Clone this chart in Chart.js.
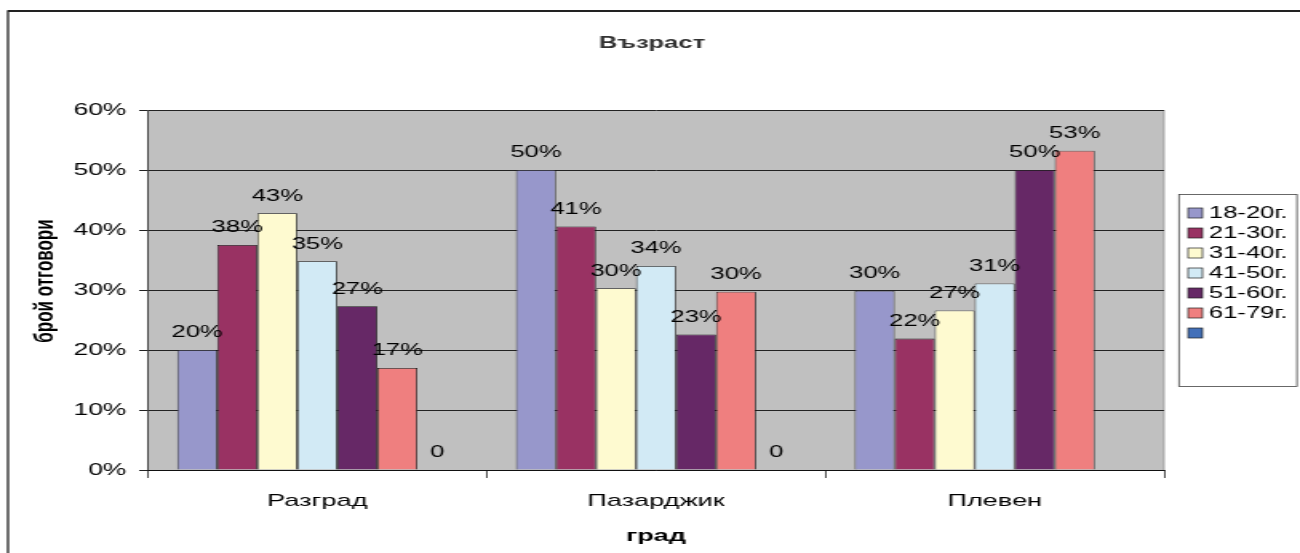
<!DOCTYPE html>
<html>
<head>
<meta charset="utf-8">
<script src="https://cdn.jsdelivr.net/npm/chart.js@4/dist/chart.umd.min.js"></script>
<style>
html,body{margin:0;padding:0;background:#fff;overflow:hidden;}
#wrap{width:813px;height:553px;position:relative;transform:scaleX(1.599);transform-origin:0 0;}
</style>
</head>
<body>
<div id="wrap"><canvas id="c" width="813" height="553" style="width:813px;height:553px"></canvas></div>
<script>
const chartTitle = 'Възраст';
const xTitle = 'град';
const yTitle = 'брой отговори';
const categories = ['Разград', 'Пазарджик', 'Плевен'];
const seriesNames = ['18-20г.', '21-30г.', '31-40г.', '41-50г.', '51-60г.', '61-79г.', ''];
const s18_20 = [20.0, 50.0, 29.9];
const s21_30 = [37.5, 40.6, 21.9];
const s31_40 = [42.8, 30.3, 26.6];
const s41_50 = [34.8, 34.0, 31.1];
const s51_60 = [27.3, 22.6, 50.0];
const s61_79 = [17.0, 29.7, 53.2];
const sBlank = [0, 0, null];
const yTicks = [0, 10, 20, 30, 40, 50, 60];
const seriesValues = [s18_20, s21_30, s31_40, s41_50, s51_60, s61_79, sBlank];
const colors = ['#9797CB', '#993263', '#FEFAD0', '#D2EAF5', '#662866', '#EF7F7F', '#4370B9'];

const FONT = "'Liberation Sans', Arial, sans-serif";

const decor = {
  id: 'decor',
  beforeDraw(chart) {
    const {ctx, chartArea: a} = chart;
    ctx.save();
    ctx.fillStyle = '#C0C0C0';
    ctx.fillRect(a.left, a.top, a.right - a.left, a.bottom - a.top);
    ctx.strokeStyle = '#888';
    ctx.lineWidth = 0.7;
    ctx.beginPath();
    ctx.moveTo(a.right, a.top);
    ctx.lineTo(a.right, a.bottom);
    ctx.stroke();
    ctx.restore();
  },
  afterDraw(chart) {
    const {ctx, chartArea: a} = chart;
    ctx.save();
    // outer frame
    ctx.strokeStyle = '#222';
    ctx.lineWidth = 2;
    ctx.beginPath();
    ctx.moveTo(5, 600); ctx.lineTo(5, 11); ctx.lineTo(900, 11);
    ctx.lineWidth = 1.3;
    ctx.stroke();
    ctx.beginPath();
    ctx.lineWidth = 2;
    ctx.moveTo(5, 11); ctx.lineTo(900, 11);
    ctx.stroke();
    // title
    ctx.fillStyle = '#333';
    ctx.font = "bold 16px " + FONT;
    ctx.textAlign = 'center';
    ctx.textBaseline = 'middle';
    ctx.fillText(chartTitle, 407.7, 44);
    // axis titles
    ctx.fillStyle = '#000';
    ctx.font = "bold 17px " + FONT;
    ctx.fillText(xTitle, (a.left + a.right) / 2, 536);
    ctx.save();
    ctx.translate(28.2, 281);
    ctx.rotate(-Math.PI / 2);
    ctx.fillText(yTitle, 0, 0);
    ctx.restore();
    // data labels
    ctx.font = "16px " + FONT;
    ctx.fillStyle = '#000';
    chart.data.datasets.forEach((ds, i) => {
      const meta = chart.getDatasetMeta(i);
      meta.data.forEach((bar, j) => {
        const v = ds.data[j];
        if (v === null || v === undefined) return;
        const txt = v === 0 ? '0' : Math.round(v) + '%';
        ctx.fillText(txt, bar.x, bar.y - 17);
      });
    });
    // legend
    const lx = 737.3, ly = 194.5, lw = 73.8, lh = 192;
    ctx.strokeStyle = '#444';
    ctx.lineWidth = 0.8;
    ctx.fillStyle = '#fff';
    ctx.fillRect(lx, ly, lw, lh);
    ctx.strokeRect(lx, ly, lw, lh);
    ctx.textAlign = 'left';
    ctx.font = "16px " + FONT;
    seriesNames.forEach((n, i) => {
      const cy = 213 + i * 20;
      ctx.fillStyle = colors[i];
      ctx.fillRect(743, cy - 5, 9, 10);
      ctx.strokeStyle = '#222';
      ctx.lineWidth = 0.7;
      ctx.strokeRect(743, cy - 5, 9, 10);
      ctx.fillStyle = '#000';
      ctx.fillText(n, 756, cy + 1);
    });
    ctx.restore();
  }
};

new Chart(document.getElementById('c'), {
  type: 'bar',
  data: {
    labels: categories,
    datasets: seriesValues.map((d, i) => ({
      label: seriesNames[i],
      data: d,
      backgroundColor: colors[i],
      borderColor: '#1a1a1a',
      borderWidth: 0.8,
      categoryPercentage: 0.827,
      barPercentage: 1.0
    }))
  },
  options: {
    responsive: false,
    animation: false,
    devicePixelRatio: 1,
    layout: { padding: { top: 110, right: 85, bottom: 0, left: 0 } },
    plugins: { legend: { display: false }, title: { display: false }, tooltip: { enabled: false } },
    scales: {
      x: {
        grid: { drawOnChartArea: false, drawTicks: true, tickLength: 8, color: '#222', lineWidth: 0.8, offset: true },
        border: { color: '#111', width: 1 },
        ticks: { color: '#000', font: { family: FONT, size: 17 }, padding: 13 },
        afterFit(s) { s.height = 83; }
      },
      y: {
        min: 0, max: 60,
        afterBuildTicks(s) { s.ticks = yTicks.map(v => ({ value: v })); },
        grid: { color: '#222', tickLength: 5.5, lineWidth: 1 },
        border: { color: '#222', width: 0.8 },
        ticks: { color: '#000', font: { family: FONT, size: 16.5 }, padding: 8, callback: v => v + '%' },
        afterFit(s) { s.width = 92.5; }
      }
    }
  },
  plugins: [decor]
});
</script>
</body>
</html>
